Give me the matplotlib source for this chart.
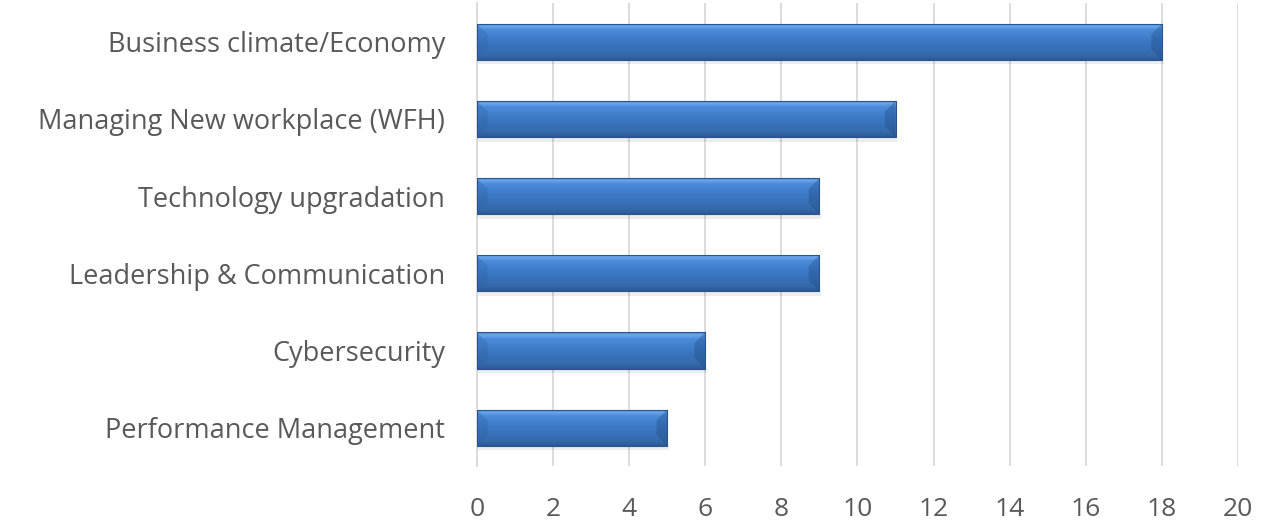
import numpy as np
import matplotlib.pyplot as plt
from matplotlib.colors import LinearSegmentedColormap
from matplotlib.patches import Polygon

# --- chart data
categories = ['Business climate/Economy', 'Managing New workplace (WFH)',
              'Technology upgradation', 'Leadership & Communication',
              'Cybersecurity', 'Performance Management']
counts = [18, 11, 9, 9, 6, 5]
x_ticks = [0, 2, 4, 6, 8, 10, 12, 14, 16, 18, 20]

plt.rcParams['font.family'] = ['Open Sans', 'DejaVu Sans']
text_color = '#595959'

fig = plt.figure(figsize=(12.65, 5.21), dpi=100)
ax = fig.add_axes([0.377, 0.105, 0.6017, 0.889])

n = len(categories)
y_pos = np.arange(n)[::-1]   # first category on top
bar_h = 0.47

# vertical gradient for the bevelled bar look (top light -> bottom dark)
bar_cmap = LinearSegmentedColormap.from_list(
    'bevel', [(0.0, '#2c5a94'), (0.12, '#3569ab'), (0.5, '#3b78c4'),
              (0.82, '#4a8bd8'), (0.92, '#6aa6ec'), (1.0, '#4f8bd3')])
grad = np.linspace(0, 1, 64).reshape(-1, 1)

bars = ax.barh(y_pos, counts, height=bar_h, color='none', edgecolor='none', zorder=3)
for rect, val, y in zip(bars, counts, y_pos):
    y0, y1 = y - bar_h / 2, y + bar_h / 2
    # soft shadow under the bar
    ax.fill_between([0, val + 0.05], y0 - 0.06, y0, color='#000000', alpha=0.07,
                    lw=0, zorder=2)
    im = ax.imshow(grad, cmap=bar_cmap, aspect='auto', origin='lower',
                   extent=[0, val, y0, y1], zorder=3)
    im.set_clip_path(rect)
    # bevel corners on each end
    b = 0.28  # bevel depth in data units along x
    bh = bar_h * 0.3
    ax.add_patch(Polygon([[0, y1], [b, y1 - bh], [b, y0 + bh], [0, y0]],
                         closed=True, color='#2f62a3', alpha=0.3, lw=0, zorder=4))
    ax.add_patch(Polygon([[val, y1], [val - b, y1 - bh], [val - b, y0 + bh], [val, y0]],
                         closed=True, color='#1f4a80', alpha=0.35, lw=0, zorder=4))
    ax.plot([0, val, val, 0, 0], [y0, y0, y1, y1, y0], color='#285590',
            lw=0.8, zorder=5)

ax.set_xlim(0, 20)
ax.set_ylim(-0.5, n - 0.5)
ax.set_xticks(x_ticks)
ax.set_yticks(y_pos)
ax.set_yticklabels(categories)
ax.xaxis.grid(True, color='#d9d9d9', lw=1.3, zorder=0)
ax.set_axisbelow(True)
for s in ['top', 'right', 'bottom']:
    ax.spines[s].set_visible(False)
ax.spines['left'].set_color('#d9d9d9')
ax.spines['left'].set_linewidth(1.3)
ax.tick_params(axis='both', length=0, colors=text_color)
ax.tick_params(axis='y', labelsize=19.5, pad=23)
ax.tick_params(axis='x', labelsize=19, pad=22)

fig.savefig('out.png', dpi=100)
